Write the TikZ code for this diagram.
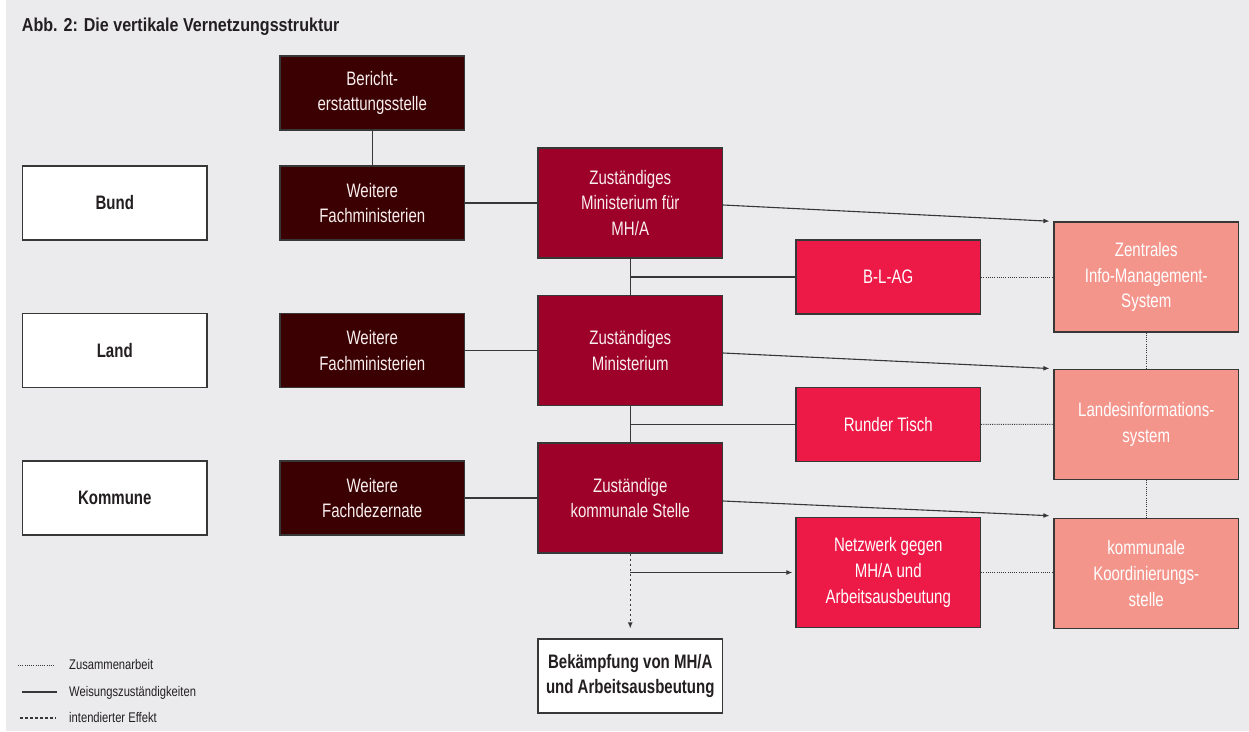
\documentclass[tikz,border=0pt]{standalone}
\usepackage{fontspec}
\setmainfont{Liberation Sans}
\newfontfamily\boxfont{Liberation Sans}[FakeStretch=0.77]
\newfontfamily\headfont{Liberation Sans}[FakeStretch=0.86]
\newfontfamily\keyfont{Liberation Sans}[FakeStretch=0.8]
\usetikzlibrary{arrows.meta,calc}

\definecolor{bg}{RGB}{235,235,237}
\definecolor{ink}{RGB}{35,31,32}
\definecolor{edge}{RGB}{55,55,55}
\definecolor{darkbrown}{RGB}{58,0,2}
\definecolor{crimson}{RGB}{157,0,41}
\definecolor{brightred}{RGB}{237,25,71}
\definecolor{salmon}{RGB}{244,149,140}
\definecolor{paletext}{RGB}{250,238,238}

\tikzset{
  box/.style={draw=edge, line width=1.2pt, minimum width=184.5pt,
    minimum height=74pt, inner sep=0pt, align=center,
    font=\boxfont\fontsize{19.5}{25.7}\selectfont},
  tall/.style={minimum height=110pt},
  levelbox/.style={box, fill=white, text=ink, font=\boxfont\bfseries\fontsize{19.5}{25.7}\selectfont},
  otherbox/.style={box, fill=darkbrown, text=paletext},
  ministry/.style={box, tall, fill=crimson, text=paletext},
  forum/.style={box, fill=brightred, text=white},
  infobox/.style={box, tall, fill=salmon, text=white},
  goalbox/.style={box, fill=white, text=ink, font=\boxfont\bfseries\fontsize{19.5}{25.7}\selectfont},
  order/.style={draw=edge, line width=1.2pt},
  collab/.style={draw=edge, line width=1pt, dash pattern=on 1pt off 1.2pt},
  effect/.style={draw=edge, line width=1.4pt, dash pattern=on 2.5pt off 2.5pt},
  tip/.style={-{Latex[length=6pt,width=5pt]}},
  keytext/.style={anchor=base west, text=ink, inner sep=0pt,
    font=\keyfont\fontsize{14}{16}\selectfont},
}

\begin{document}
\begin{tikzpicture}[x=1pt,y=-1pt]
  \useasboundingbox (0,0) rectangle (1249,731);
  \fill[white] (0,0) rectangle (1249,731);
  \fill[bg] (6,0) rectangle (1249,731);

  % heading
  \node[anchor=base west, inner sep=0pt, text=ink,
        font=\headfont\bfseries\fontsize{18.7}{20}\selectfont]
        (title) at (21.7,31.7) {Abb. 2: Die vertikale Vernetzungsstruktur};

  % levels
  \node[levelbox] (bund) at (114.75,203) {Bund};
  \node[levelbox] (land) at (114.75,350.5) {Land};
  \node[levelbox] (kommune) at (114.75,498) {Kommune};

  % other departments
  \node[otherbox] (bericht) at (372.25,93) {Bericht-\\erstattungsstelle};
  \node[otherbox] (wbund) at (372.25,203) {Weitere\\Fachministerien};
  \node[otherbox] (wland) at (372.25,350.5) {Weitere\\Fachministerien};
  \node[otherbox] (wkom) at (372.25,498) {Weitere\\Fachdezernate};

  % responsible bodies
  \node[ministry] (minbund) at (630.25,203) {Zuständiges\\Ministerium für\\MH/A};
  \node[ministry] (minland) at (630.25,350.5) {Zuständiges\\Ministerium};
  \node[ministry] (minkom) at (630.25,498) {Zuständige\\kommunale Stelle};

  % coordination bodies
  \node[forum] (blag) at (888.25,277) {B-L-AG};
  \node[forum] (runder) at (888.25,424.5) {Runder Tisch};
  \node[forum, tall] (netz) at (888.25,572.5) {Netzwerk gegen\\MH/A und\\Arbeitsausbeutung};

  % information systems
  \node[infobox] (zim) at (1146.25,277) {Zentrales\\Info-Management-\\System};
  \node[infobox] (lis) at (1146.25,424.3) {Landesinformations-\\system};
  \node[infobox] (kks) at (1146.25,573.5) {kommunale\\Koordinierungs-\\stelle};

  % goal
  \node[goalbox] (bek) at (630.25,676) {Bekämpfung von MH/A\\und Arbeitsausbeutung};

  % lines of authority
  \draw[order] (bericht) -- (wbund);
  \draw[order] (wbund) -- (minbund);
  \draw[order] (wland) -- (minland);
  \draw[order] (wkom) -- (minkom);
  \draw[order] (minbund) -- (minland);
  \draw[order] (minland) -- (minkom);
  \coordinate (j1) at (minbund.south |- blag.west);
  \coordinate (j2) at (minland.south |- runder.west);
  \coordinate (j3) at (minkom.south |- netz.west);
  \draw[order] (j1) -- (blag.west);
  \draw[order] (j2) -- (runder.west);
  \draw[order, tip, shorten >=3pt] (j3) -- (netz.west);

  \draw[order, line width=1.1pt, tip, shorten >=4pt] ([yshift=-2pt]minbund.east) -- (zim.north west);
  \draw[order, line width=1.1pt, tip, shorten >=4pt] ([yshift=-2.5pt]minland.east) -- (lis.north west);
  \draw[order, line width=1.1pt, tip, shorten >=4pt] ([yshift=-3pt]minkom.east) -- ([yshift=2pt]kks.north west);

  % cooperation
  \draw[collab] (blag) -- (zim);
  \draw[collab] (runder) -- (lis);
  \draw[collab] (netz.east) -- (kks.west |- netz.east);
  \draw[collab] (zim) -- (lis);
  \draw[collab] (lis) -- (kks);

  % intended effect
  \draw[effect, tip, shorten >=10pt] (minkom.south) -- (bek.north);

  % key
  \node[keytext] (k1) at (69,669.5) {Zusammenarbeit};
  \node[keytext] (k2) at (69,696) {Weisungszuständigkeiten};
  \node[keytext] (k3) at (69,722.5) {intendierter Effekt};
  \coordinate (k1s) at (18,665);
  \coordinate (k2s) at (22,692);
  \coordinate (k3s) at (20,718);
  \draw[collab] (k1s) -- ++(36,0);
  \draw[order] (k2s) -- ++(35,0);
  \draw[effect, line width=1.1pt, dash pattern=on 3pt off 2pt] (k3s) -- ++(36,0);
\end{tikzpicture}
\end{document}
